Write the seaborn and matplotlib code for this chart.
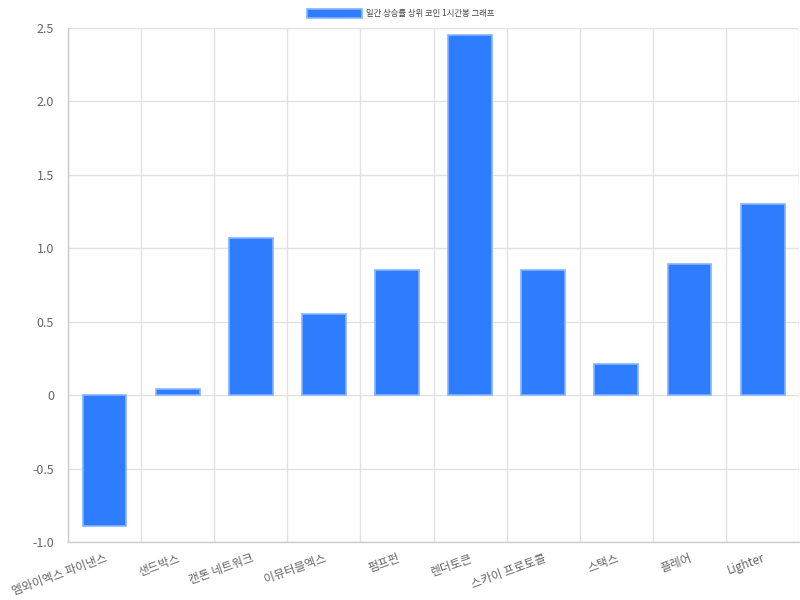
import matplotlib
matplotlib.use("Agg")
import matplotlib.pyplot as plt
import seaborn as sns
import numpy as np
import pandas as pd

categories = ["엠와이엑스 파이낸스", "샌드박스", "캔톤 네트워크", "이뮤터블엑스", "펌프펀",
              "렌더토큰", "스카이 프로토콜", "스택스", "플레어", "Lighter"]
values = [-0.89, 0.04, 1.07, 0.55, 0.85, 2.45, 0.85, 0.21, 0.89, 1.30]
series_label = "일간 상승률 상위 코인 1시간봉 그래프"
yticks = [-1.0, -0.5, 0, 0.5, 1.0, 1.5, 2.0, 2.5]

sns.set_theme(style="white")
plt.rcParams['font.family'] = ['Noto Sans CJK KR', 'DejaVu Sans']
plt.rcParams['axes.unicode_minus'] = False

df = pd.DataFrame({"cat": categories, "val": values})

fig = plt.figure(figsize=(8, 6), dpi=100)
ax = fig.add_axes([0.085, 0.0967, 0.914, 0.8567])

sns.barplot(data=df, x="cat", y="val", ax=ax, width=0.6, color="#2e7dff",
            edgecolor="#86b4ff", linewidth=1.2, label=series_label, saturation=1)
for p in ax.patches:
    p.set_facecolor("#2e7dff")

ax.set_xlim(-0.5, len(categories) - 0.5)
ax.set_ylim(-1.0, 2.5)
ax.set_xlabel("")
ax.set_ylabel("")

ax.set_yticks(yticks)
ax.set_yticklabels(["0" if v == 0 else f"{v:.1f}" for v in yticks])
ax.set_xticks(range(len(categories)))
ax.set_xticklabels(categories, rotation=20, ha="right", rotation_mode="anchor")
ax.set_xticks(np.arange(-0.5, len(categories), 1), minor=True)

ax.grid(True, axis="y", color="#e1e1e1", linewidth=1)
ax.grid(True, axis="x", which="minor", color="#e1e1e1", linewidth=1)
ax.set_axisbelow(True)

ax.tick_params(axis="x", which="major", length=0, pad=7, labelsize=8.5, labelcolor="#666666")
ax.tick_params(axis="x", which="minor", length=7, color="#e1e1e1", width=1)
ax.tick_params(axis="y", length=8, color="#e1e1e1", width=1, labelsize=9, labelcolor="#666666", pad=2)

for s in ["top", "right"]:
    ax.spines[s].set_visible(False)
for s in ["left", "bottom"]:
    ax.spines[s].set_color("#cccccc")
    ax.spines[s].set_linewidth(1)

leg = ax.legend(loc="lower center", bbox_to_anchor=(0.455, 1.005), frameon=False,
                fontsize=6, handlelength=6.5, handleheight=1.3, handletextpad=0.5)
for t in leg.get_texts():
    t.set_color("#444444")

fig.savefig("out.png", dpi=100)
